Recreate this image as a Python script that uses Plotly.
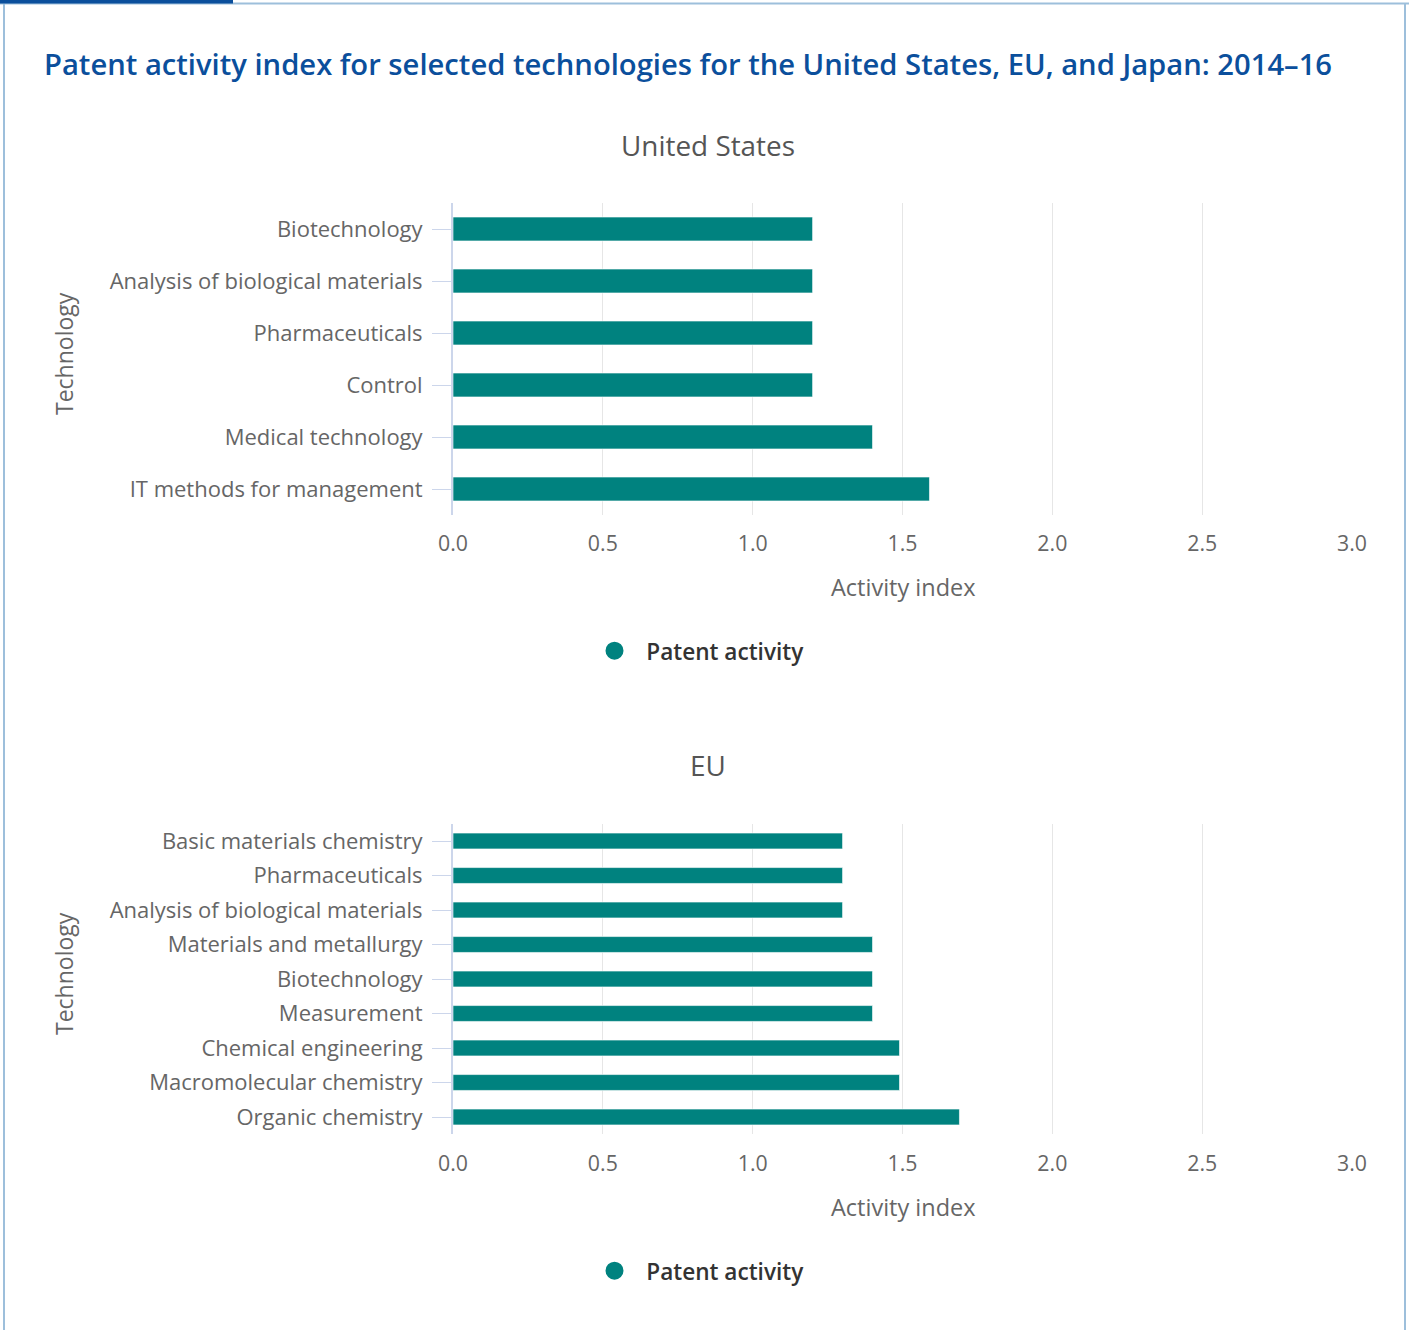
import plotly.graph_objects as go

W, H = 1409, 1330
WD = 1439  # drawing width (page is photographed with a slight horizontal squeeze)

us_categories = ["Biotechnology", "Analysis of biological materials", "Pharmaceuticals",
                 "Control", "Medical technology", "IT methods for management"]
us_values = [1.2, 1.2, 1.2, 1.2, 1.4, 1.59]

eu_categories = ["Basic materials chemistry", "Pharmaceuticals", "Analysis of biological materials",
                 "Materials and metallurgy", "Biotechnology", "Measurement",
                 "Chemical engineering", "Macromolecular chemistry", "Organic chemistry"]
eu_values = [1.3, 1.3, 1.3, 1.4, 1.4, 1.4, 1.49, 1.49, 1.69]

x_ticks = [0.0, 0.5, 1.0, 1.5, 2.0, 2.5, 3.0]
x_tick_labels = ["0.0", "0.5", "1.0", "1.5", "2.0", "2.5", "3.0"]

TEAL = "#00827F"
FONT = "Open Sans"

def px(v):
    return 1 - v / H

def fx(v):
    return v / W

fig = go.Figure()
fig.add_trace(go.Bar(x=us_values, y=us_categories, orientation="h", xaxis="x", yaxis="y",
                     marker=dict(color=TEAL, line=dict(color="rgba(255,255,255,0.6)", width=1)),
                     showlegend=False, hoverinfo="x+y"))
fig.add_trace(go.Bar(x=eu_values, y=eu_categories, orientation="h", xaxis="x2", yaxis="y2",
                     marker=dict(color=TEAL, line=dict(color="rgba(255,255,255,0.6)", width=1)),
                     showlegend=False, hoverinfo="x+y"))
for lg, ax, ay in [("legend", "x", "y"), ("legend2", "x2", "y2")]:
    fig.add_trace(go.Scatter(x=[None], y=[None], mode="markers", name="  Patent activity",
                             marker=dict(color=TEAL, size=17, symbol="circle",
                                         line=dict(color=TEAL, width=2)),
                             xaxis=ax, yaxis=ay, legend=lg, showlegend=True))

xdom = [fx(453), fx(1352)]
xaxis_common = dict(range=[0, 3], tickvals=x_ticks, ticktext=x_tick_labels,
                    showgrid=True, gridcolor="#e6e6e6", gridwidth=1, zeroline=False,
                    showline=False, ticks="", ticklabelstandoff=14,
                    tickfont=dict(family=FONT, size=21.3, color="#666666"), domain=xdom)
yaxis_common = dict(autorange="reversed", showgrid=False, zeroline=False, showline=True,
                    linecolor="#ccd6eb", linewidth=2, ticks="outside", ticklen=19,
                    tickcolor="#ccd6eb", tickwidth=1, ticklabelstandoff=5,
                    tickfont=dict(family=FONT, size=22, color="#666666"))

legend_common = dict(xanchor="center", yanchor="middle", orientation="h",
                     font=dict(family=FONT, size=22.6, color="#333333", weight=600),
                     bgcolor="rgba(0,0,0,0)")
fig.update_layout(
    width=WD, height=H, margin=dict(l=0, r=0, t=0, b=0),
    paper_bgcolor="white", plot_bgcolor="white",
    bargap=0.54, font=dict(family=FONT),
    xaxis=dict(**xaxis_common, anchor="y"),
    yaxis=dict(**yaxis_common, domain=[px(515), px(203)], anchor="x",
               categoryorder="array", categoryarray=us_categories),
    xaxis2=dict(**xaxis_common, anchor="y2"),
    yaxis2=dict(**yaxis_common, domain=[px(1134.25), px(823.75)], anchor="x2",
                categoryorder="array", categoryarray=eu_categories),
    legend=dict(**legend_common, x=fx(702), y=px(651)),
    legend2=dict(**legend_common, x=fx(702), y=px(1271)),
)

ann = []
ann.append(dict(text="Patent activity index for selected technologies for the United States, EU, and Japan: 2014–16",
                x=fx(42), y=px(64.5), xanchor="left", yanchor="middle", showarrow=False,
                font=dict(family=FONT, size=29.2, color="#0b4f9c", weight=600)))
for txt, yy in [("United States", 145), ("EU", 765)]:
    ann.append(dict(text=txt, x=fx(708), y=px(yy), xanchor="center", yanchor="middle",
                    showarrow=False, font=dict(family=FONT, size=27.9, color="#555555")))
for yy in [354, 974]:
    ann.append(dict(text="Technology", x=fx(64), y=px(yy), xanchor="center", yanchor="middle",
                    textangle=-90, showarrow=False, font=dict(family=FONT, size=23, color="#666666")))
for yy in [587, 1207]:
    ann.append(dict(text="Activity index", x=fx(903), y=px(yy), xanchor="center", yanchor="middle",
                    showarrow=False, font=dict(family=FONT, size=23.5, color="#666666")))
for a in ann:
    a["xref"] = "paper"
    a["yref"] = "paper"
fig.update_layout(annotations=ann)

shapes = [
    dict(type="line", x0=fx(4), x1=fx(4), y0=0, y1=px(3), line=dict(color="#9dbfdb", width=2)),
    dict(type="line", x0=fx(1405), x1=fx(1405), y0=0, y1=px(3), line=dict(color="#9dbfdb", width=2)),
    dict(type="line", x0=0, x1=1, y0=px(3.5), y1=px(3.5), line=dict(color="#9dbfdb", width=2)),
    dict(type="line", x0=0, x1=fx(233), y0=px(1.5), y1=px(1.5), line=dict(color="#0b4f9c", width=4)),
]
for s in shapes:
    s["xref"] = "paper"
    s["yref"] = "paper"
fig.update_layout(shapes=shapes)

fig.write_html("out.html", config={"displayModeBar": False},
               post_script="document.body.style.margin='0';"
                           "document.getElementById('{plot_id}').style.marginLeft='-15px';")
